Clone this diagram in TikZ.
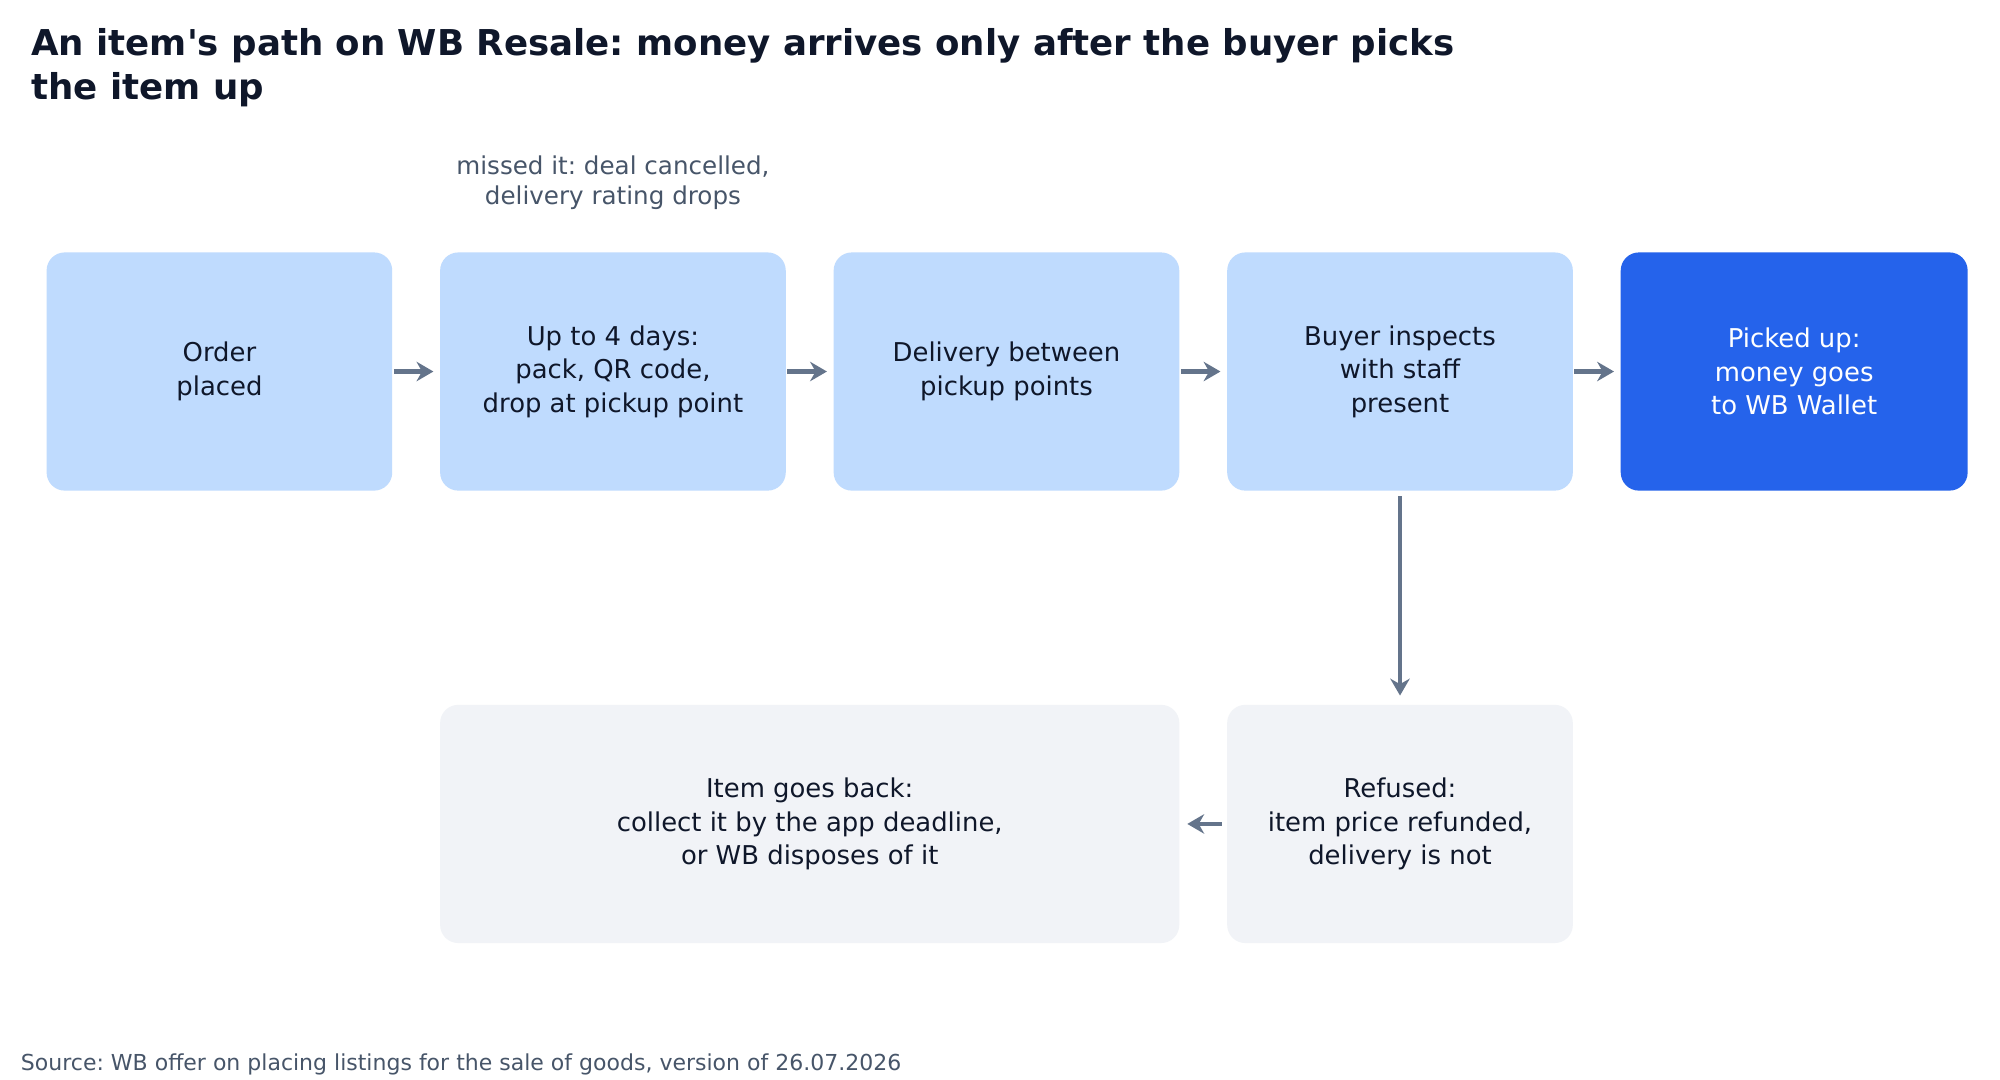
\documentclass[tikz,border=0pt]{standalone}
\usepackage{fontspec}
\setmainfont[Mapping=]{DejaVu Sans}
\frenchspacing
\usetikzlibrary{arrows.meta}
\definecolor{lb}{HTML}{BFDBFE}
\definecolor{db}{HTML}{2563EB}
\definecolor{gr}{HTML}{F1F3F7}
\definecolor{ar}{HTML}{64748B}
\definecolor{tx}{HTML}{0F172A}
\definecolor{nt}{HTML}{475569}
\begin{document}
\begin{tikzpicture}[x=1pt,y=-1pt,
  box/.style={rounded corners=14pt,minimum height=184pt,align=center,font=\fontsize{20}{26}\selectfont,text=tx,inner sep=0pt},
  blue/.style={box,fill=lb,minimum width=267pt},
  dark/.style={box,fill=db,minimum width=268pt,text=white},
  grey/.style={box,fill=gr},
  arr/.style={draw=ar,line width=3.5pt,-{Stealth[length=13pt,width=15pt]}}]
\useasboundingbox[fill=white] (0,0) rectangle (1545,834);
\node[anchor=north west,align=left,font=\bfseries\fontsize{27.5}{34}\selectfont,text=tx,inner sep=0pt] (title) at (24,22) {An item\textquotesingle s path on WB Resale: money arrives only after the buyer picks\\the item up};
\node[blue] (a) at (169.5,287) {Order\\placed};
\node[blue] (b) at (473.5,287) {Up to 4 days:\\pack, QR code,\\drop at pickup point};
\node[blue] (c) at (777.5,287) {Delivery between\\pickup points};
\node[blue] (d) at (1081.5,287) {Buyer inspects\\with staff\\present};
\node[dark] (e) at (1386,287) {Picked up:\\money goes\\to WB Wallet};
\node[grey,minimum width=571pt] (g) at (625.5,636.5) {Item goes back:\\collect it by the app deadline,\\or WB disposes of it};
\node[grey,minimum width=267pt] (f) at (1081.5,636.5) {Refused:\\item price refunded,\\delivery is not};
\node[align=center,font=\fontsize{19}{23.5}\selectfont,text=nt] (n) at (473.5,141) {missed it: deal cancelled,\\delivery rating drops};
\node[anchor=west,font=\fontsize{17}{20}\selectfont,text=nt,inner sep=0pt] (src) at (16,822) {Source: WB offer on placing listings for the sale of goods, version of 26.07.2026};
\draw[arr] ([xshift=1pt]a.east) -- ([xshift=-5pt]b.west);
\draw[arr] ([xshift=1pt]b.east) -- ([xshift=-5pt]c.west);
\draw[arr] ([xshift=1pt]c.east) -- ([xshift=-5pt]d.west);
\draw[arr] ([xshift=1pt]d.east) -- ([xshift=-5pt]e.west);
\draw[arr] ([yshift=-4pt]d.south) -- ([yshift=7pt]f.north);
\draw[arr] ([xshift=-4pt]f.west) -- ([xshift=6pt]g.east);
\end{tikzpicture}
\end{document}
